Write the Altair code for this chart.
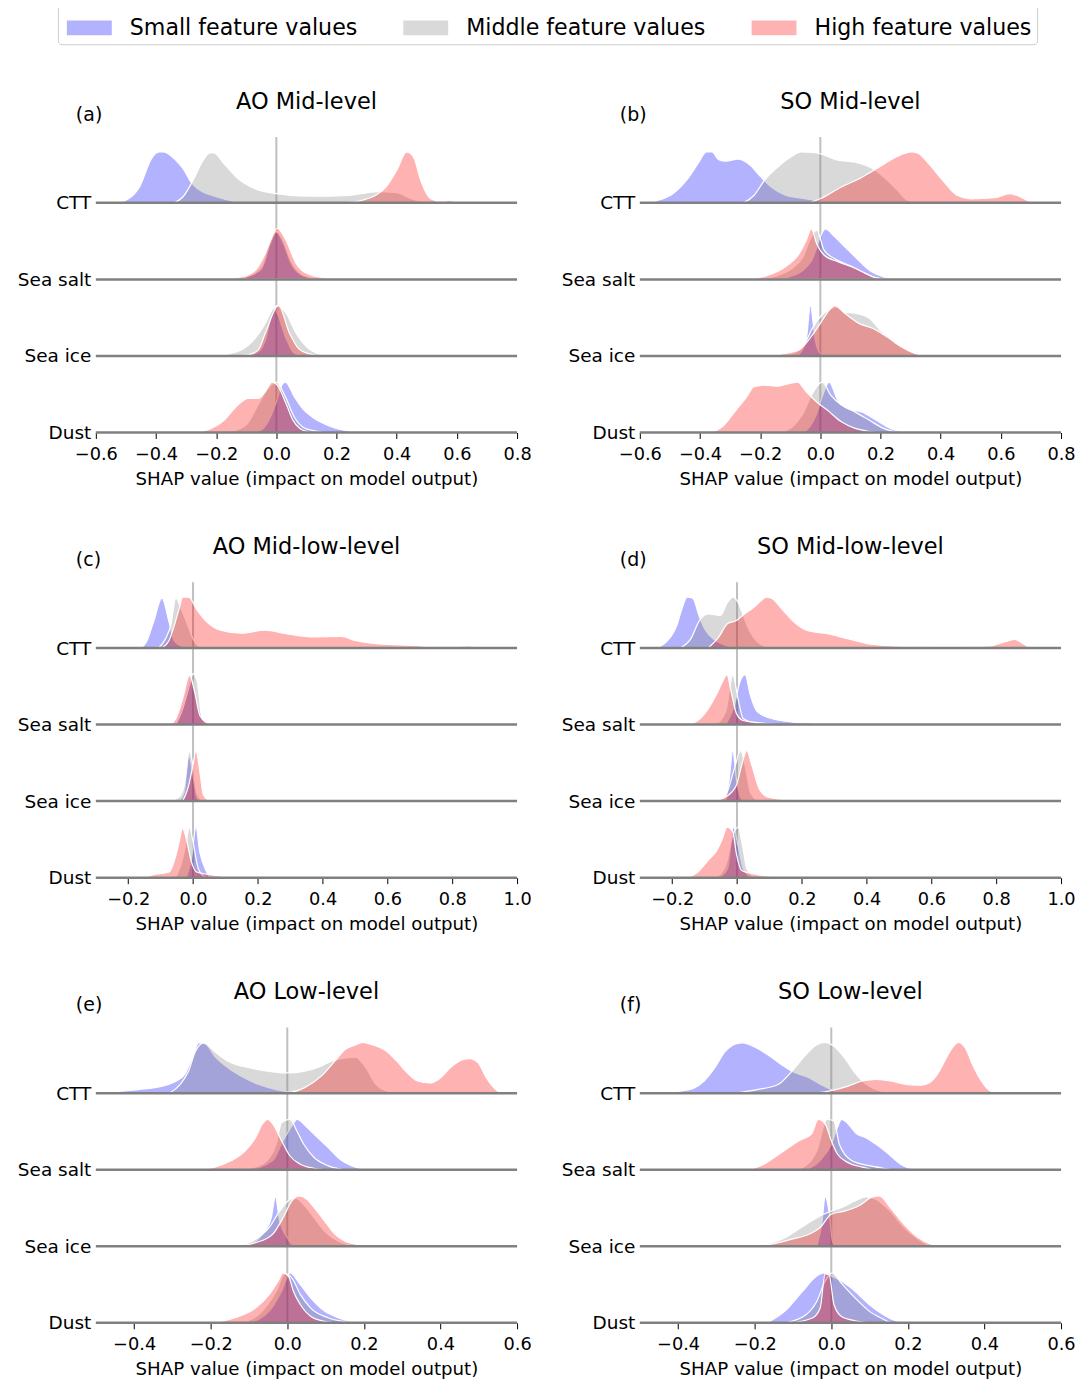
import altair as alt
import pandas as pd

FONT = "DejaVu Sans"
FEATURES = ["CTT", "Sea salt", "Sea ice", "Dust"]
GROUPS = ["Small feature values", "Middle feature values", "High feature values"]
KEYS = ["small", "mid", "high"]
COLORS = ["#0000ff", "#808080", "#ff0000"]
XTITLE = "SHAP value (impact on model output)"

# ---- density curves: [x, relative height] ----
A_CTT = {
    "small": [[-0.52, 0], [-0.455, 0.31], [-0.415, 0.87], [-0.39, 1.0], [-0.375, 1.0], [-0.335, 0.84], [-0.31, 0.67], [-0.283, 0.4], [-0.26, 0.27], [-0.2, 0.12], [-0.14, 0.03], [-0.1, 0]],
    "mid": [[-0.34, 0], [-0.31, 0.12], [-0.277, 0.44], [-0.243, 0.84], [-0.22, 0.98], [-0.208, 0.98], [-0.174, 0.77], [-0.128, 0.48], [-0.071, 0.28], [0.0, 0.18], [0.11, 0.13], [0.227, 0.14], [0.34, 0.22], [0.4, 0.2], [0.45, 0.08], [0.5, 0]],
    "high": [[0.227, 0], [0.284, 0.05], [0.33, 0.15], [0.364, 0.31], [0.4, 0.64], [0.433, 1.0], [0.456, 0.9], [0.48, 0.44], [0.513, 0.08], [0.55, 0.02], [0.575, 0.05], [0.6, 0]],
}
A_SEASALT = {
    "small": [[-0.14, 0], [-0.1, 0.05], [-0.05, 0.2], [-0.02, 0.7], [0.0, 0.93], [0.02, 0.75], [0.05, 0.3], [0.08, 0.1], [0.12, 0.02], [0.15, 0]],
    "mid": [[-0.15, 0], [-0.1, 0.05], [-0.05, 0.25], [-0.02, 0.75], [0.0, 0.95], [0.02, 0.8], [0.05, 0.35], [0.08, 0.12], [0.12, 0.03], [0.16, 0]],
    "high": [[-0.2, 0], [-0.117, 0.05], [-0.07, 0.18], [-0.037, 0.51], [-0.014, 0.84], [0.003, 1.0], [0.032, 0.77], [0.066, 0.31], [0.1, 0.12], [0.17, 0.02], [0.2, 0]],
}
A_SEAICE = {
    "small": [[-0.1, 0], [-0.06, 0.08], [-0.037, 0.3], [-0.008, 0.93], [0.032, 0.35], [0.055, 0.08], [0.08, 0]],
    "mid": [[-0.2, 0], [-0.117, 0.12], [-0.07, 0.35], [-0.037, 0.64], [-0.014, 0.9], [0.003, 0.99], [0.032, 0.84], [0.066, 0.44], [0.1, 0.18], [0.135, 0.05], [0.17, 0]],
    "high": [[-0.12, 0], [-0.094, 0.02], [-0.06, 0.12], [-0.037, 0.44], [0.007, 0.99], [0.044, 0.44], [0.078, 0.12], [0.124, 0.02], [0.15, 0]],
}
A_DUST = {
    "small": [[-0.08, 0], [-0.05, 0.05], [-0.02, 0.3], [0.0, 0.6], [0.02, 0.95], [0.03, 0.99], [0.06, 0.7], [0.09, 0.45], [0.12, 0.3], [0.16, 0.17], [0.2, 0.08], [0.25, 0.02], [0.28, 0]],
    "mid": [[-0.18, 0], [-0.15, 0.02], [-0.1, 0.15], [-0.06, 0.55], [-0.03, 0.85], [0.0, 0.99], [0.03, 0.7], [0.06, 0.3], [0.09, 0.1], [0.12, 0.04], [0.16, 0]],
    "high": [[-0.277, 0], [-0.23, 0.05], [-0.174, 0.24], [-0.128, 0.54], [-0.094, 0.67], [-0.06, 0.67], [-0.037, 0.8], [-0.014, 0.99], [0.003, 0.93], [0.032, 0.57], [0.055, 0.24], [0.078, 0.08], [0.11, 0.01], [0.14, 0]],
}

B_CTT = {
    "small": [[-0.58, 0], [-0.54, 0.05], [-0.49, 0.18], [-0.44, 0.48], [-0.407, 0.77], [-0.378, 1.0], [-0.36, 1.0], [-0.338, 0.85], [-0.314, 0.82], [-0.274, 0.86], [-0.233, 0.74], [-0.198, 0.51], [-0.163, 0.31], [-0.116, 0.15], [-0.047, 0.08], [0.0, 0.03], [0.035, 0]],
    "mid": [[-0.256, 0], [-0.22, 0.15], [-0.186, 0.44], [-0.14, 0.71], [-0.093, 0.92], [-0.064, 1.0], [-0.012, 0.98], [0.058, 0.84], [0.116, 0.8], [0.175, 0.67], [0.21, 0.51], [0.256, 0.25], [0.29, 0.05], [0.325, 0]],
    "high": [[-0.035, 0], [0.0, 0.08], [0.07, 0.31], [0.14, 0.51], [0.186, 0.67], [0.233, 0.84], [0.28, 0.97], [0.303, 1.0], [0.326, 0.97], [0.36, 0.77], [0.407, 0.44], [0.454, 0.15], [0.5, 0.08], [0.58, 0.1], [0.629, 0.18], [0.652, 0.15], [0.7, 0]],
}
B_SEASALT = {
    "small": [[-0.14, 0], [-0.105, 0.05], [-0.058, 0.18], [-0.023, 0.44], [0.0, 0.84], [0.017, 0.99], [0.047, 0.84], [0.081, 0.64], [0.116, 0.44], [0.163, 0.18], [0.21, 0.05], [0.245, 0]],
    "mid": [[-0.22, 0], [-0.186, 0.02], [-0.14, 0.08], [-0.093, 0.22], [-0.058, 0.44], [-0.035, 0.77], [-0.012, 0.97], [0.012, 0.58], [0.047, 0.41], [0.093, 0.28], [0.15, 0.12], [0.186, 0.03], [0.22, 0]],
    "high": [[-0.233, 0], [-0.175, 0.08], [-0.116, 0.25], [-0.07, 0.51], [-0.047, 0.77], [-0.03, 0.99], [-0.012, 0.7], [0.012, 0.48], [0.058, 0.35], [0.116, 0.22], [0.175, 0.05], [0.21, 0]],
}
B_SEAICE = {
    "small": [[-0.08, 0], [-0.064, 0.08], [-0.047, 0.31], [-0.033, 0.99], [-0.017, 0.31], [0.0, 0.05], [0.017, 0]],
    "mid": [[-0.14, 0], [-0.093, 0.05], [-0.058, 0.18], [-0.023, 0.58], [0.0, 0.77], [0.035, 0.93], [0.058, 0.97], [0.081, 0.86], [0.116, 0.84], [0.163, 0.74], [0.198, 0.51], [0.233, 0.35], [0.28, 0.15], [0.326, 0.03], [0.35, 0]],
    "high": [[-0.175, 0], [-0.116, 0.05], [-0.07, 0.12], [-0.023, 0.44], [0.0, 0.64], [0.03, 0.9], [0.047, 0.99], [0.081, 0.84], [0.128, 0.64], [0.175, 0.54], [0.22, 0.38], [0.268, 0.18], [0.314, 0.05], [0.36, 0]],
}
B_DUST = {
    "small": [[-0.06, 0], [-0.035, 0.11], [-0.012, 0.37], [0.006, 0.7], [0.029, 0.99], [0.058, 0.63], [0.093, 0.47], [0.14, 0.4], [0.186, 0.24], [0.233, 0.08], [0.28, 0]],
    "mid": [[-0.128, 0], [-0.093, 0.11], [-0.058, 0.37], [-0.023, 0.8], [0.006, 0.99], [0.035, 0.73], [0.07, 0.54], [0.116, 0.4], [0.163, 0.24], [0.21, 0.08], [0.256, 0]],
    "high": [[-0.36, 0], [-0.326, 0.11], [-0.28, 0.44], [-0.245, 0.7], [-0.221, 0.9], [-0.186, 0.93], [-0.14, 0.91], [-0.105, 0.96], [-0.076, 0.99], [-0.047, 0.8], [-0.012, 0.6], [0.023, 0.44], [0.07, 0.21], [0.116, 0.08], [0.163, 0.02], [0.198, 0]],
}

C_CTT = {
    "small": [[-0.16, 0], [-0.144, 0.12], [-0.122, 0.51], [-0.096, 0.98], [-0.074, 0.51], [-0.059, 0.15], [-0.032, 0.03], [0.0, 0]],
    "mid": [[-0.106, 0], [-0.085, 0.18], [-0.069, 0.44], [-0.053, 0.98], [-0.037, 0.77], [-0.016, 0.44], [0.0, 0.18], [0.02, 0.03], [0.043, 0]],
    "high": [[-0.096, 0], [-0.074, 0.15], [-0.058, 0.44], [-0.043, 0.77], [-0.032, 1.0], [-0.013, 1.0], [0.01, 0.77], [0.043, 0.51], [0.085, 0.35], [0.149, 0.29], [0.223, 0.35], [0.287, 0.28], [0.362, 0.22], [0.457, 0.23], [0.5, 0.15], [0.574, 0.08], [0.68, 0.05], [0.766, 0.02], [0.85, 0.04], [0.894, 0]],
}
C_SEASALT = {
    "small": [[-0.055, 0], [-0.032, 0.38], [-0.005, 0.9], [0.021, 0.25], [0.043, 0]],
    "mid": [[-0.053, 0], [-0.035, 0.25], [-0.011, 0.77], [0.0, 1.0], [0.013, 0.84], [0.027, 0.15], [0.043, 0.02], [0.06, 0]],
    "high": [[-0.069, 0], [-0.053, 0.12], [-0.032, 0.51], [-0.011, 0.97], [0.005, 0.64], [0.021, 0.18], [0.043, 0.04], [0.064, 0]],
}
C_SEAICE = {
    "small": [[-0.043, 0], [-0.027, 0.18], [-0.013, 0.9], [-0.002, 0.58], [0.011, 0.08], [0.021, 0]],
    "mid": [[-0.074, 0], [-0.043, 0.08], [-0.027, 0.31], [-0.011, 0.97], [0.0, 0.7], [0.011, 0.18], [0.027, 0.02], [0.04, 0]],
    "high": [[-0.032, 0], [-0.016, 0.25], [0.0, 0.71], [0.009, 0.99], [0.021, 0.58], [0.032, 0.12], [0.048, 0.02], [0.064, 0]],
}
C_DUST = {
    "small": [[-0.021, 0], [-0.005, 0.37], [0.009, 0.99], [0.021, 0.5], [0.037, 0.18], [0.053, 0]],
    "mid": [[-0.053, 0], [-0.032, 0.37], [-0.021, 0.7], [-0.011, 0.99], [0.0, 0.7], [0.016, 0.18], [0.032, 0.03], [0.043, 0]],
    "high": [[-0.149, 0], [-0.128, 0.05], [-0.074, 0.11], [-0.053, 0.44], [-0.043, 0.7], [-0.032, 0.97], [-0.021, 0.77], [-0.005, 0.31], [0.011, 0.11], [0.064, 0.05], [0.128, 0]],
}

D_CTT = {
    "small": [[-0.25, 0], [-0.218, 0.12], [-0.186, 0.44], [-0.17, 0.77], [-0.154, 1.0], [-0.137, 0.98], [-0.116, 0.61], [-0.1, 0.38], [-0.067, 0.15], [-0.035, 0.05], [0.0, 0]],
    "mid": [[-0.175, 0], [-0.143, 0.18], [-0.116, 0.54], [-0.089, 0.67], [-0.051, 0.64], [-0.029, 0.9], [-0.013, 1.0], [0.003, 0.9], [0.019, 0.64], [0.041, 0.31], [0.063, 0.12], [0.095, 0.02], [0.117, 0]],
    "high": [[-0.089, 0], [-0.056, 0.22], [-0.029, 0.48], [-0.002, 0.54], [0.019, 0.65], [0.052, 0.8], [0.074, 0.93], [0.09, 1.0], [0.106, 0.98], [0.138, 0.77], [0.171, 0.54], [0.214, 0.35], [0.279, 0.28], [0.344, 0.18], [0.42, 0.07], [0.528, 0.03], [0.69, 0.02], [0.776, 0.04], [0.83, 0.13], [0.857, 0.17], [0.879, 0.1], [0.906, 0]],
}
D_SEASALT = {
    "small": [[-0.035, 0], [-0.008, 0.38], [0.009, 0.84], [0.025, 0.98], [0.041, 0.58], [0.063, 0.25], [0.106, 0.12], [0.171, 0.05], [0.257, 0.02], [0.29, 0]],
    "mid": [[-0.067, 0], [-0.035, 0.25], [-0.013, 0.97], [0.003, 0.51], [0.019, 0.12], [0.063, 0.02], [0.095, 0]],
    "high": [[-0.154, 0], [-0.121, 0.08], [-0.089, 0.31], [-0.062, 0.61], [-0.045, 0.84], [-0.031, 0.98], [-0.018, 0.64], [-0.002, 0.22], [0.019, 0.08], [0.063, 0.04], [0.128, 0]],
}
D_SEAICE = {
    "small": [[-0.035, 0], [-0.024, 0.44], [-0.013, 0.99], [-0.002, 0.44], [0.009, 0.1], [0.019, 0]],
    "mid": [[-0.067, 0], [-0.035, 0.12], [-0.008, 0.64], [0.011, 0.99], [0.025, 0.7], [0.041, 0.18], [0.063, 0.02], [0.08, 0]],
    "high": [[-0.078, 0], [-0.035, 0.08], [-0.002, 0.31], [0.014, 0.7], [0.03, 0.99], [0.046, 0.7], [0.068, 0.25], [0.095, 0.08], [0.171, 0.02], [0.257, 0]],
}
D_DUST = {
    "small": [[-0.056, 0], [-0.029, 0.18], [-0.011, 0.99], [0.003, 0.63], [0.019, 0.18], [0.041, 0.02], [0.06, 0]],
    "mid": [[-0.067, 0], [-0.035, 0.24], [-0.013, 0.83], [0.003, 0.99], [0.017, 0.63], [0.03, 0.18], [0.052, 0.02], [0.07, 0]],
    "high": [[-0.154, 0], [-0.121, 0.11], [-0.089, 0.34], [-0.062, 0.54], [-0.045, 0.77], [-0.031, 0.99], [-0.013, 0.9], [-0.002, 0.47], [0.014, 0.14], [0.063, 0.06], [0.128, 0.01], [0.15, 0]],
}

E_CTT = {
    "small": [[-0.5, 0.01], [-0.39, 0.07], [-0.326, 0.14], [-0.29, 0.24], [-0.268, 0.37], [-0.245, 0.76], [-0.232, 0.99], [-0.214, 0.97], [-0.19, 0.73], [-0.155, 0.5], [-0.119, 0.33], [-0.074, 0.17], [-0.029, 0.07], [0.0, 0.03], [0.025, 0]],
    "mid": [[-0.308, 0], [-0.28, 0.17], [-0.258, 0.43], [-0.24, 0.82], [-0.218, 0.99], [-0.19, 0.82], [-0.155, 0.63], [-0.1, 0.5], [-0.047, 0.43], [0.0, 0.4], [0.043, 0.43], [0.088, 0.53], [0.115, 0.63], [0.15, 0.69], [0.178, 0.71], [0.205, 0.5], [0.232, 0.17], [0.26, 0.04], [0.286, 0]],
    "high": [[0.0, 0], [0.043, 0.1], [0.088, 0.33], [0.124, 0.63], [0.151, 0.86], [0.178, 0.95], [0.196, 1.0], [0.223, 0.95], [0.26, 0.82], [0.286, 0.63], [0.313, 0.4], [0.34, 0.24], [0.372, 0.2], [0.395, 0.27], [0.43, 0.53], [0.458, 0.66], [0.476, 0.68], [0.498, 0.6], [0.52, 0.3], [0.548, 0.05], [0.566, 0]],
}
E_SEASALT = {
    "small": [[-0.1, 0], [-0.038, 0.18], [-0.011, 0.57], [0.012, 0.86], [0.025, 0.99], [0.052, 0.83], [0.079, 0.63], [0.106, 0.44], [0.142, 0.18], [0.178, 0.05], [0.214, 0]],
    "mid": [[-0.12, 0], [-0.065, 0.11], [-0.029, 0.5], [-0.015, 0.93], [0.007, 0.99], [0.025, 0.76], [0.043, 0.5], [0.07, 0.24], [0.106, 0.08], [0.15, 0]],
    "high": [[-0.227, 0], [-0.19, 0.05], [-0.146, 0.18], [-0.11, 0.37], [-0.083, 0.63], [-0.065, 0.9], [-0.051, 0.99], [-0.038, 0.9], [-0.015, 0.57], [0.007, 0.27], [0.034, 0.11], [0.07, 0.03], [0.106, 0]],
}
E_SEAICE = {
    "small": [[-0.101, 0], [-0.065, 0.24], [-0.042, 0.56], [-0.031, 0.97], [-0.02, 0.5], [0.0, 0.17], [0.012, 0.04], [0.025, 0]],
    "mid": [[-0.137, 0], [-0.092, 0.1], [-0.047, 0.37], [-0.02, 0.69], [0.007, 0.92], [0.02, 0.95], [0.043, 0.82], [0.07, 0.56], [0.097, 0.3], [0.133, 0.1], [0.17, 0.02], [0.187, 0]],
    "high": [[-0.137, 0], [-0.083, 0.07], [-0.038, 0.24], [-0.011, 0.56], [0.012, 0.89], [0.03, 0.99], [0.052, 0.92], [0.07, 0.76], [0.097, 0.5], [0.124, 0.24], [0.151, 0.1], [0.187, 0.03], [0.205, 0]],
}
E_DUST = {
    "small": [[-0.101, 0], [-0.047, 0.23], [-0.015, 0.62], [0.007, 0.98], [0.034, 0.75], [0.061, 0.49], [0.097, 0.23], [0.133, 0.1], [0.178, 0]],
    "mid": [[-0.119, 0], [-0.065, 0.23], [-0.029, 0.62], [-0.006, 0.96], [0.012, 0.88], [0.034, 0.56], [0.061, 0.29], [0.106, 0.1], [0.151, 0.02], [0.169, 0]],
    "high": [[-0.19, 0], [-0.137, 0.1], [-0.083, 0.29], [-0.047, 0.56], [-0.024, 0.82], [-0.011, 0.98], [0.003, 0.92], [0.016, 0.62], [0.034, 0.36], [0.061, 0.13], [0.097, 0.03], [0.124, 0]],
}

F_CTT = {
    "small": [[-0.45, 0], [-0.396, 0.04], [-0.359, 0.1], [-0.332, 0.24], [-0.304, 0.5], [-0.277, 0.82], [-0.249, 0.97], [-0.231, 0.99], [-0.203, 0.92], [-0.167, 0.76], [-0.13, 0.56], [-0.103, 0.43], [-0.057, 0.3], [-0.02, 0.14], [0.0, 0.07], [0.016, 0]],
    "mid": [[-0.249, 0], [-0.194, 0.07], [-0.139, 0.17], [-0.103, 0.43], [-0.066, 0.76], [-0.038, 0.95], [-0.016, 1.0], [0.007, 0.92], [0.035, 0.69], [0.062, 0.4], [0.081, 0.24], [0.108, 0.1], [0.136, 0.03], [0.154, 0]],
    "high": [[-0.038, 0], [0.0, 0.05], [0.044, 0.14], [0.081, 0.24], [0.117, 0.27], [0.154, 0.24], [0.2, 0.17], [0.236, 0.16], [0.255, 0.2], [0.282, 0.43], [0.3, 0.69], [0.319, 0.92], [0.332, 1.0], [0.35, 0.89], [0.369, 0.56], [0.392, 0.24], [0.41, 0.07], [0.428, 0]],
}
F_SEASALT = {
    "small": [[-0.066, 0], [-0.029, 0.18], [0.0, 0.5], [0.016, 0.83], [0.027, 0.99], [0.044, 0.9], [0.067, 0.7], [0.09, 0.63], [0.117, 0.5], [0.145, 0.34], [0.181, 0.11], [0.218, 0]],
    "mid": [[-0.084, 0], [-0.038, 0.37], [-0.011, 0.99], [0.007, 0.96], [0.021, 0.5], [0.053, 0.18], [0.099, 0.08], [0.136, 0.03], [0.163, 0]],
    "high": [[-0.212, 0], [-0.176, 0.11], [-0.13, 0.34], [-0.084, 0.57], [-0.052, 0.7], [-0.034, 0.99], [-0.016, 0.9], [0.0, 0.57], [0.016, 0.31], [0.044, 0.14], [0.081, 0.05], [0.108, 0]],
}
F_SEAICE = {
    "small": [[-0.038, 0], [-0.025, 0.43], [-0.016, 0.97], [-0.006, 0.69], [0.003, 0.1], [0.012, 0]],
    "mid": [[-0.194, 0], [-0.121, 0.17], [-0.066, 0.43], [-0.02, 0.63], [0.026, 0.76], [0.062, 0.89], [0.09, 0.97], [0.117, 0.92], [0.154, 0.69], [0.19, 0.37], [0.227, 0.14], [0.255, 0.02], [0.273, 0]],
    "high": [[-0.212, 0], [-0.157, 0.04], [-0.103, 0.14], [-0.057, 0.24], [-0.029, 0.37], [0.0, 0.63], [0.035, 0.69], [0.071, 0.79], [0.108, 0.97], [0.126, 0.99], [0.154, 0.76], [0.19, 0.43], [0.227, 0.17], [0.264, 0.03], [0.282, 0]],
}
F_DUST = {
    "small": [[-0.167, 0], [-0.121, 0.23], [-0.075, 0.62], [-0.038, 0.92], [-0.02, 0.98], [0.0, 0.92], [0.026, 0.82], [0.062, 0.62], [0.099, 0.36], [0.136, 0.16], [0.172, 0.03], [0.19, 0]],
    "mid": [[-0.121, 0], [-0.066, 0.16], [-0.038, 0.42], [-0.016, 0.82], [0.003, 0.98], [0.026, 0.78], [0.062, 0.49], [0.099, 0.23], [0.136, 0.07], [0.154, 0]],
    "high": [[-0.103, 0], [-0.048, 0.1], [-0.029, 0.29], [-0.016, 0.96], [-0.006, 0.95], [0.007, 0.36], [0.026, 0.13], [0.062, 0.04], [0.099, 0]],
}

TICKS_MID = [-0.6, -0.4, -0.2, 0.0, 0.2, 0.4, 0.6, 0.8]
TICKS_MIDLOW = [-0.2, 0.0, 0.2, 0.4, 0.6, 0.8, 1.0]
TICKS_LOW = [-0.4, -0.2, 0.0, 0.2, 0.4, 0.6]

PANELS = [
    ("(a)", "AO Mid-level", [-0.6, 0.8], TICKS_MID, [A_CTT, A_SEASALT, A_SEAICE, A_DUST]),
    ("(b)", "SO Mid-level", [-0.6, 0.8], TICKS_MID, [B_CTT, B_SEASALT, B_SEAICE, B_DUST]),
    ("(c)", "AO Mid-low-level", [-0.3, 1.0], TICKS_MIDLOW, [C_CTT, C_SEASALT, C_SEAICE, C_DUST]),
    ("(d)", "SO Mid-low-level", [-0.3, 1.0], TICKS_MIDLOW, [D_CTT, D_SEASALT, D_SEAICE, D_DUST]),
    ("(e)", "AO Low-level", [-0.5, 0.6], TICKS_LOW, [E_CTT, E_SEASALT, E_SEAICE, E_DUST]),
    ("(f)", "SO Low-level", [-0.5, 0.6], TICKS_LOW, [F_CTT, F_SEASALT, F_SEAICE, F_DUST]),
]

RIDGE = 0.665   # height of a ridge peak, in units of ridge spacing
YTOP = 3.86
W, H = 422, 296

color_scale = alt.Scale(domain=GROUPS, range=COLORS)
legend = alt.Legend(
    orient="none", legendX=-38, legendY=-137, direction="horizontal", title=None,
    labelFontSize=22.2, labelFont=FONT, labelColor="black", labelLimit=500,
    symbolType="M-1,-0.333L1,-0.333L1,0.333L-1,0.333Z", symbolSize=2025,
    symbolOpacity=0.3, symbolStrokeWidth=0, labelOffset=18, columnPadding=42,
    symbolOffset=4, padding=5, strokeColor="#cccccc", cornerRadius=4, fillColor="white",
)

label_expr = "datum.value == 3 ? 'CTT' : datum.value == 2 ? 'Sea salt' : datum.value == 1 ? 'Sea ice' : 'Dust'"


def make_panel(tag, title, domain, ticks, curves):
    rows = []
    for fi, (feat, cur) in enumerate(zip(FEATURES, curves)):
        off = 3 - fi
        for g, k in zip(GROUPS, KEYS):
            for x, h in cur[k]:
                rows.append({"feature": feat, "group": g, "x": x, "off": off, "top": off + h * RIDGE})
    df = pd.DataFrame(rows)

    xs = alt.Scale(domain=domain, nice=False, zero=False)
    ys = alt.Scale(domain=[0, YTOP], nice=False, zero=False)
    xaxis = alt.Axis(values=ticks, format=".1f", title=XTITLE, grid=False, domain=False,
                     tickColor="black", tickSize=6, tickWidth=1, labelFontSize=17.8,
                     labelColor="black", labelFont=FONT, labelPadding=7, labelOverlap=False,
                     labelFlush=False,
                     titleFontSize=18.2, titleFont=FONT, titleFontWeight="normal",
                     titleColor="black", titlePadding=7)
    yaxis = alt.Axis(values=[0, 1, 2, 3], labelExpr=label_expr, title=None, grid=False,
                     domain=False, ticks=False, labelFontSize=18.5, labelFont=FONT,
                     labelColor="black", labelPadding=5, labelBaseline="middle")

    vline = alt.Chart(pd.DataFrame({"x": [0.0]})).mark_rule(
        color="#c0c0c0", strokeWidth=2).encode(x=alt.X("x:Q", scale=xs, axis=xaxis))
    layers = [vline]
    for g in GROUPS:
        layers.append(
            alt.Chart(df).transform_filter(alt.datum.group == g).mark_area(
                fillOpacity=0.3, stroke="white", strokeWidth=1.2, interpolate="monotone"
            ).encode(
                x=alt.X("x:Q", scale=xs, axis=xaxis),
                y=alt.Y("top:Q", scale=ys, axis=yaxis),
                y2="off:Q",
                fill=alt.Fill("group:N", scale=color_scale, legend=legend),
                detail="feature:N",
            )
        )
    base = alt.Chart(pd.DataFrame({"off": [0, 1, 2, 3]})).mark_rule(
        color="#808080", strokeWidth=2.5).encode(y=alt.Y("off:Q", scale=ys, axis=yaxis))
    lab = alt.Chart(pd.DataFrame({"t": [tag]})).mark_text(
        font=FONT, fontSize=19, align="left", baseline="middle", color="black"
    ).encode(text="t:N", x=alt.value(-20), y=alt.value(-22))
    return alt.layer(*layers, base, lab).properties(
        width=W, height=H,
        title=alt.TitleParams(title, fontSize=22.5, font=FONT, fontWeight="normal",
                              anchor="middle", frame="group", offset=-7, color="black"),
    )


panels = [make_panel(*p) for p in PANELS]
rows = [alt.hconcat(panels[i], panels[i + 1], spacing=28) for i in (0, 2, 4)]
chart = alt.vconcat(*rows, spacing=47).properties(
    padding={"left": 8, "top": -10, "right": 5, "bottom": 0}
).configure(font=FONT).configure_view(stroke="transparent")

chart.save("out.html", embed_options={"renderer": "svg", "actions": False})
